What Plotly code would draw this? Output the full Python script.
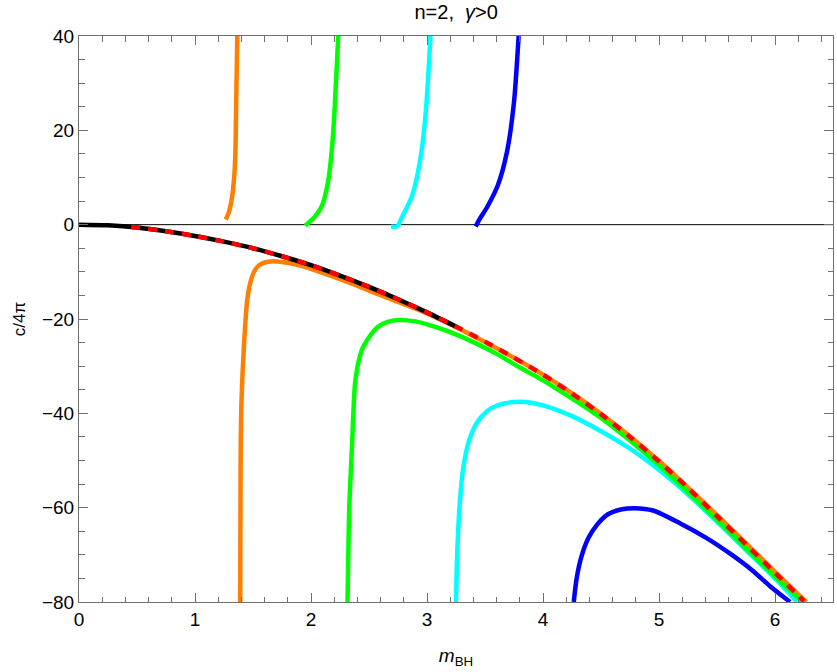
import plotly.graph_objects as go

# ---- data ----
black_m = [0, 0.25, 0.5, 0.75, 1.0, 1.25, 1.5, 1.75, 2.0, 2.25, 2.5, 2.75, 3.0, 3.25]
black_c = [0, -0.15, -0.6, -1.4, -2.4, -3.6, -5.0, -6.7, -8.6, -10.8, -13.2, -15.8, -18.6, -21.6]

red_m = [0.45, 0.5, 0.75, 1.0, 1.25, 1.5, 1.75, 2.0, 2.25, 2.5, 2.75, 3.0, 3.25,
         3.5, 3.75, 4.0, 4.25, 4.5, 4.75, 5.0, 5.25, 5.5, 5.75, 6.0, 6.25]
red_c = [-0.5, -0.6, -1.4, -2.4, -3.6, -5.0, -6.7, -8.6, -10.8, -13.2, -15.8, -18.6, -21.6,
         -24.8, -28.2, -31.8, -35.8, -40.2, -45.0, -50.2, -55.8, -61.8, -67.8, -73.8, -79.8]

orange_lo_m = [1.39, 1.392, 1.394, 1.40, 1.42, 1.45, 1.48, 1.52, 1.58, 1.65, 1.75, 1.9, 2.1,
               2.32, 2.5, 2.75, 3.0, 3.5, 4.0, 4.5, 5.0, 5.5, 6.0, 6.27]
orange_lo_c = [-80, -60, -47.8, -38, -26.6, -16, -12, -9.5, -8.2, -7.8, -7.9, -8.6, -10.2,
               -12.2, -14.0, -16.4, -18.8, -24.9, -31.8, -40.1, -50.1, -61.6, -73.6, -80]
orange_up_m = [1.265, 1.29, 1.32, 1.345, 1.356, 1.365]
orange_up_c = [1.1, 2.5, 5.9, 13, 27.1, 41]

green_lo_m = [2.315, 2.33, 2.352, 2.38, 2.42, 2.45, 2.52, 2.58, 2.66, 2.75, 2.9, 3.05, 3.2,
              3.4, 3.6, 3.8, 4.0, 4.5, 5.0, 5.5, 6.0, 6.24]
green_lo_c = [-80, -60, -47.8, -33.6, -28, -25.9, -23.2, -21.6, -20.6, -20.2, -20.5, -21.5, -22.8,
              -24.9, -27.4, -30.3, -33.0, -41.0, -51.0, -62.6, -74.6, -80]
green_up_m = [1.95, 2.03, 2.094, 2.15, 2.19, 2.215, 2.235]
green_up_c = [-0.2, 1.6, 4.0, 9.5, 19.0, 30.0, 40]

cyan_lo_m = [3.25, 3.26, 3.28, 3.31, 3.36, 3.43, 3.52, 3.62, 3.75, 3.85, 4.0, 4.25, 4.5,
             4.75, 5.0, 5.25, 5.5, 5.75, 6.0, 6.19]
cyan_lo_c = [-80, -70, -60, -52, -46, -42, -39.5, -38.2, -37.6, -37.6, -38.3, -40.6, -43.8,
             -47.5, -52.0, -57.2, -63.0, -69.0, -75.0, -80]
cyan_up_m = [2.69, 2.745, 2.79, 2.87, 2.94, 2.99, 3.03]
cyan_up_c = [-0.4, -0.3, 1.9, 6.0, 13.5, 24.0, 40]

blue_lo_m = [4.265, 4.29, 4.33, 4.39, 4.47, 4.56, 4.67, 4.79, 4.95, 5.18, 5.4, 5.61, 5.8, 5.96, 6.13]
blue_lo_c = [-80, -75, -70.5, -66.5, -63.5, -61.4, -60.4, -60.1, -60.6, -63.3, -66.3, -69.7, -73.2, -76.7, -80]
blue_up_m = [3.42, 3.45, 3.52, 3.61, 3.69, 3.75, 3.79]
blue_up_c = [-0.4, 1.0, 3.8, 8.3, 15.5, 26.0, 40]

ORANGE = "rgb(255,127,0)"
GREEN = "rgb(0,255,0)"
CYAN = "rgb(0,255,255)"
BLUE = "rgb(0,0,255)"
LW = 4.5

fig = go.Figure()

def add(x, y, color, width=LW, dash=None):
    fig.add_trace(go.Scatter(x=x, y=y, mode="lines",
                             line=dict(color=color, width=width, dash=dash,
                                       shape="spline", smoothing=0.7),
                             showlegend=False, hoverinfo="skip"))

add(blue_lo_m, blue_lo_c, BLUE)
add(blue_up_m, blue_up_c, BLUE)
add(cyan_lo_m, cyan_lo_c, CYAN)
add(cyan_up_m, cyan_up_c, CYAN)
add(orange_lo_m, orange_lo_c, ORANGE)
add(orange_up_m, orange_up_c, ORANGE)
add(green_lo_m, green_lo_c, GREEN)
add(green_up_m, green_up_c, GREEN)
add(black_m, black_c, "black", width=4.5)
add(red_m, red_c, "red", width=4.5, dash="9px,8px")

FONT = "Liberation Sans, Arial, sans-serif"
FRAME = "#707070"

def axis_common(show_labels=True):
    return dict(
        showgrid=False, zeroline=False, showline=True, linecolor=FRAME, linewidth=1,
        ticks="inside", ticklen=9, tickcolor=FRAME, tickwidth=1, automargin=False,
        showticklabels=show_labels,
        tickfont=dict(family=FONT, size=19, color="black"),
    )

xminor = dict(dtick=0.2, ticks="inside", ticklen=5.5, tickcolor=FRAME, tickwidth=1)
yminor = dict(dtick=5, ticks="inside", ticklen=5.5, tickcolor=FRAME, tickwidth=1)

fig.update_layout(
    width=837, height=672,
    margin=dict(l=79, r=4, t=36, b=70),
    plot_bgcolor="white", paper_bgcolor="white",
    title=dict(text="n=2,  <i>γ</i>>0", x=0.545, xanchor="center", y=0.982, yanchor="middle",
               font=dict(family=FONT, size=20, color="black")),
    xaxis=dict(range=[0, 6.5], dtick=1, tick0=0, minor=xminor,
               title=dict(text="<i>m</i><sub>BH</sub>", font=dict(family=FONT, size=19, color="black"),
                          standoff=19),
               **axis_common()),
    yaxis=dict(range=[-80, 40], dtick=20, tick0=0, minor=yminor,
               title=dict(text="c/4π", font=dict(family=FONT, size=17, color="black"),
                          standoff=12),
               **axis_common()),
    xaxis2=dict(range=[0, 6.5], dtick=1, tick0=0, minor=xminor, overlaying="x", side="top",
                **axis_common(False)),
    yaxis2=dict(range=[-80, 40], dtick=20, tick0=0, minor=yminor, overlaying="y", side="right",
                **axis_common(False)),
    shapes=[dict(type="line", xref="paper", x0=0, x1=1, yref="y", y0=0, y1=0,
                 line=dict(color="black", width=1), layer="below")],
)
# invisible trace to activate the mirrored axes
fig.add_trace(go.Scatter(x=[0], y=[0], xaxis="x2", yaxis="y2", mode="markers",
                         marker=dict(opacity=0), showlegend=False, hoverinfo="skip"))

fig.write_html("out.html", config={"displayModeBar": False},
               post_script="document.body.style.margin='0';document.body.style.padding='0';")
